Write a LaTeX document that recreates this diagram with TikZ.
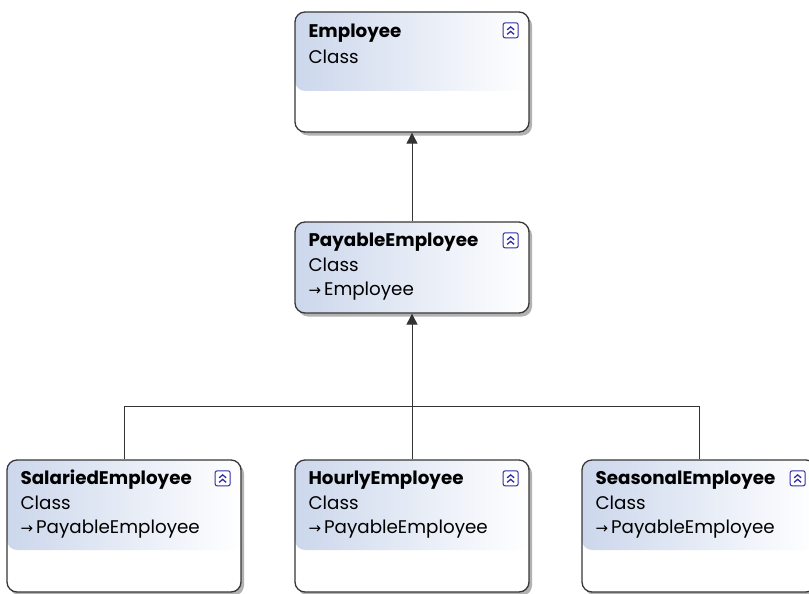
\documentclass[tikz,border=0pt]{standalone}
\usepackage{fontspec}
\setmainfont{Poppins}
\newfontfamily\arrowfont{DejaVu Sans}
\usetikzlibrary{arrows.meta,shadows}

\definecolor{hdrblue}{RGB}{204,215,236}
\definecolor{boxline}{RGB}{55,55,55}
\definecolor{iconblue}{RGB}{48,48,165}

\tikzset{
  classbox/.style={draw=boxline, line width=1.3pt, rounded corners=10pt, fill=white,
    minimum width=234pt, inner sep=0pt,
    drop shadow={shadow xshift=3pt, shadow yshift=-3.5pt, opacity=0.3, fill=black},
    path picture={\shade [left color=hdrblue, right color=white] (path picture bounding box.north west) rectangle ([yshift=-#1]path picture bounding box.north east);}},
  classname/.style={anchor=base west, inner sep=0pt, font=\fontsize{18.3}{20}\selectfont\bfseries},
  classtext/.style={anchor=base west, inner sep=0pt, font=\fontsize{18.3}{20}\selectfont},
  collapse/.style={draw=iconblue, line width=1pt, rounded corners=2pt, fill=white, minimum size=15pt, inner sep=0pt,
    path picture={
      \draw [iconblue, line width=1.3pt, sharp corners] ([xshift=-3.5pt, yshift=0.5pt]path picture bounding box.center) -- ++(3.5pt,3pt) -- ++(3.5pt,-3pt);
      \draw [iconblue, line width=1.3pt, sharp corners] ([xshift=-3.5pt, yshift=-4pt]path picture bounding box.center) -- ++(3.5pt,3pt) -- ++(3.5pt,-3pt);}},
  link/.style={draw=black!80, line width=0.9pt}
}
\newcommand{\inh}{{\arrowfont\fontsize{15}{15}\selectfont →}\hspace{3pt}}

\begin{document}
\begin{tikzpicture}[x=1pt, y=-1pt]
        \useasboundingbox (0,0) rectangle (809,594);

        % boxes
        \node [classbox=79pt, minimum height=120pt] (emp) at (412,72) {};
        \node [classbox=91pt, minimum height=91pt] (pay) at (412,267.5) {};
        \node [classbox=90pt, minimum height=132pt] (sal) at (124,526) {};
        \node [classbox=90pt, minimum height=132pt] (hour) at (412,526) {};
        \node [classbox=90pt, minimum height=132pt] (sea) at (699,526) {};

        % texts
        \node [classname] (empname) at ([xshift=14pt, yshift=-26pt]emp.north west) {Employee};
        \node [classtext] (empkind) at ([yshift=-26pt]empname.base west) {Class};

        \node [classname] (payname) at ([xshift=14pt, yshift=-25pt]pay.north west) {PayableEmployee};
        \node [classtext] (paykind) at ([yshift=-25pt]payname.base west) {Class};
        \node [classtext] (paybase) at ([yshift=-24.5pt]paykind.base west) {\inh Employee};

        \node [classname] (salname) at ([xshift=14pt, yshift=-25pt]sal.north west) {SalariedEmployee};
        \node [classtext] (salkind) at ([yshift=-25pt]salname.base west) {Class};
        \node [classtext] (salbase) at ([yshift=-24.5pt]salkind.base west) {\inh PayableEmployee};

        \node [classname] (hourname) at ([xshift=14pt, yshift=-25pt]hour.north west) {HourlyEmployee};
        \node [classtext] (hourkind) at ([yshift=-25pt]hourname.base west) {Class};
        \node [classtext] (hourbase) at ([yshift=-24.5pt]hourkind.base west) {\inh PayableEmployee};

        \node [classname] (seaname) at ([xshift=14pt, yshift=-25pt]sea.north west) {SeasonalEmployee};
        \node [classtext] (seakind) at ([yshift=-25pt]seaname.base west) {Class};
        \node [classtext] (seabase) at ([yshift=-24.5pt]seakind.base west) {\inh PayableEmployee};

        % collapse icons
        \node [collapse] (empicon) at ([xshift=-19pt, yshift=-19pt]emp.north east) {};
        \node [collapse] (payicon) at ([xshift=-19pt, yshift=-19pt]pay.north east) {};
        \node [collapse] (salicon) at ([xshift=-19pt, yshift=-19pt]sal.north east) {};
        \node [collapse] (houricon) at ([xshift=-19pt, yshift=-19pt]hour.north east) {};
        \node [collapse] (seaicon) at ([xshift=-19pt, yshift=-19pt]sea.north east) {};

        % inheritance
        \coordinate (bus) at (412,406.5);
        \draw [link, -{Triangle[width=11pt, length=11pt]}] (pay.north) -- (emp.south);
        \draw [link, -{Triangle[width=11pt, length=11pt]}] (hour.north) -- (pay.south);
        \draw [link] (sal.north) |- (bus);
        \draw [link] (sea.north) |- (bus);

\end{tikzpicture}
\end{document}
